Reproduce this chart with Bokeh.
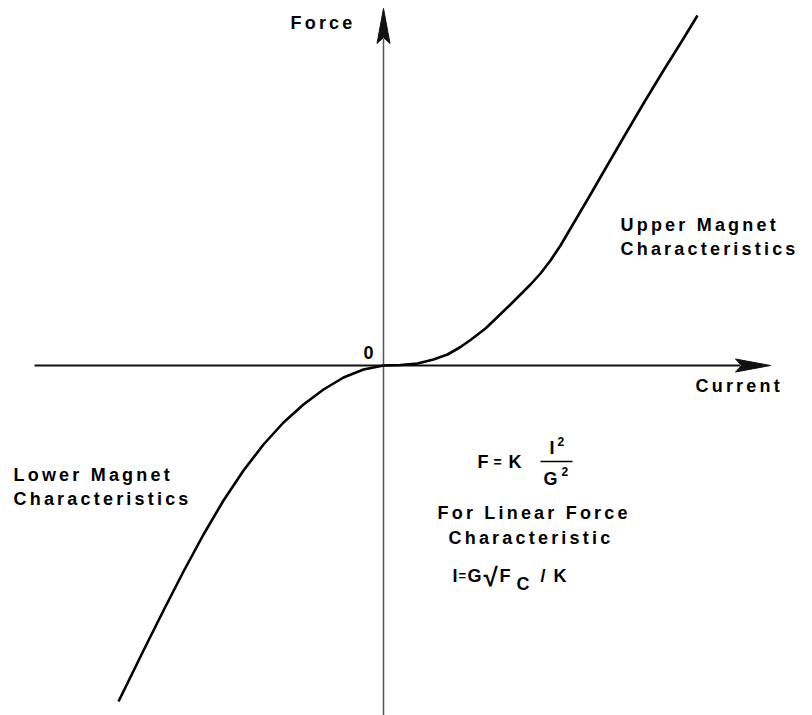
from bokeh.plotting import figure
from bokeh.models import Range1d, InlineStyleSheet
from bokeh.core.properties import value
from bokeh.embed import file_html
from bokeh.resources import INLINE

# ---- data (Current, Force), arbitrary units, origin at axes crossing ----
upper_current = [0, 17, 34, 50, 64, 77, 87, 102, 114, 127, 137, 147, 157, 167, 177, 187, 197,
                 207, 222, 240, 260, 280, 300, 314]
upper_force = [0, 0.5, 2, 6, 11, 18.5, 25.5, 37, 48.5, 61, 71, 81, 92, 105, 120, 137, 154,
               171, 197, 228, 262, 295, 327, 350]

lower_current = [0, -20, -40, -60, -80, -100, -120, -140, -160, -180, -200, -220, -240, -265]
lower_force = [0, -4, -12, -24, -39, -57, -79, -105, -135, -169, -206, -245, -285, -336]

# axis extents
x_axis_start, x_axis_end = -349, 387
y_axis_start, y_axis_end = -350, 357

FONT = value("Liberation Sans")

p = figure(width=812, height=715, output_backend="svg", toolbar_location=None,
           x_range=Range1d(-383, 429), y_range=Range1d(-350, 365),
           x_axis_type=None, y_axis_type=None, min_border=0,
           outline_line_color=None, background_fill_color="white",
           border_fill_color="white")
p.stylesheets = [InlineStyleSheet(css=":host { letter-spacing: 3.2px; }")]

AX = "#111111"
# axes lines
p.line([x_axis_start, x_axis_end - 30], [0, 0], line_color=AX, line_width=2)
p.line([0, 0], [y_axis_start, y_axis_end - 30], line_color="#555555", line_width=1.5)

# arrow heads derived from axis ends
L, hw, notch = 35, 6.5, 6
p.patch([x_axis_end, x_axis_end - L, x_axis_end - L + notch, x_axis_end - L],
        [0, hw, 0, -hw], fill_color=AX, line_color=AX, line_width=1)
p.patch([0, hw, 0, -hw],
        [y_axis_end, y_axis_end - L, y_axis_end - L + notch, y_axis_end - L],
        fill_color=AX, line_color=AX, line_width=1)

# characteristic curves
p.line(upper_current, upper_force, line_color="black", line_width=2.6, line_join="round")
p.line(lower_current, lower_force, line_color="black", line_width=2.6, line_join="round")

# ---- labels ----
labels = [
    ("Force", -93, 343, 18),
    ("0", -20, 13, 18),
    ("Current", 312, -20, 18),
    ("Upper Magnet", 237, 141, 18),
    ("Characteristics", 237, 117, 18),
    ("Lower Magnet", -370, -109, 18),
    ("Characteristics", -370, -133, 18),
    ("For Linear Force", 54, -147, 18),
    ("Characteristic", 65, -172, 18),
]
for t, x, y, s in labels:
    p.text(x=[x], y=[y], text=[t], text_font=FONT, text_font_style="bold",
           text_font_size=f"{s}px", text_baseline="middle", text_align="left",
           text_color="black")

# formula F = K I^2 / G^2  and  I = G sqrt(F_C / K)
formula = [
    ("F", 94, -96, 18),
    ("=", 110, -96, 14),
    ("K", 125, -96, 18),
    ("I", 166, -82, 18),
    ("2", 174, -76, 12),
    ("G", 160, -113, 18),
    ("2", 178, -106, 12),
    ("I", 69, -210, 18),
    ("=", 75, -210, 13),
    ("G", 84, -210, 18),
    ("√", 100, -211, 26),
    ("F", 116, -210, 18),
    ("C", 133, -218, 18),
    ("/", 157, -210, 18),
    ("K", 170, -210, 18),
]
for t, x, y, s in formula:
    p.text(x=[x], y=[y], text=[t], text_font=FONT, text_font_style="bold",
           text_font_size=f"{s}px", text_baseline="middle", text_align="left",
           text_color="black")
p.line([157, 189], [-96, -96], line_color="black", line_width=1.5)

open("out.html", "w").write(file_html(p, INLINE))
